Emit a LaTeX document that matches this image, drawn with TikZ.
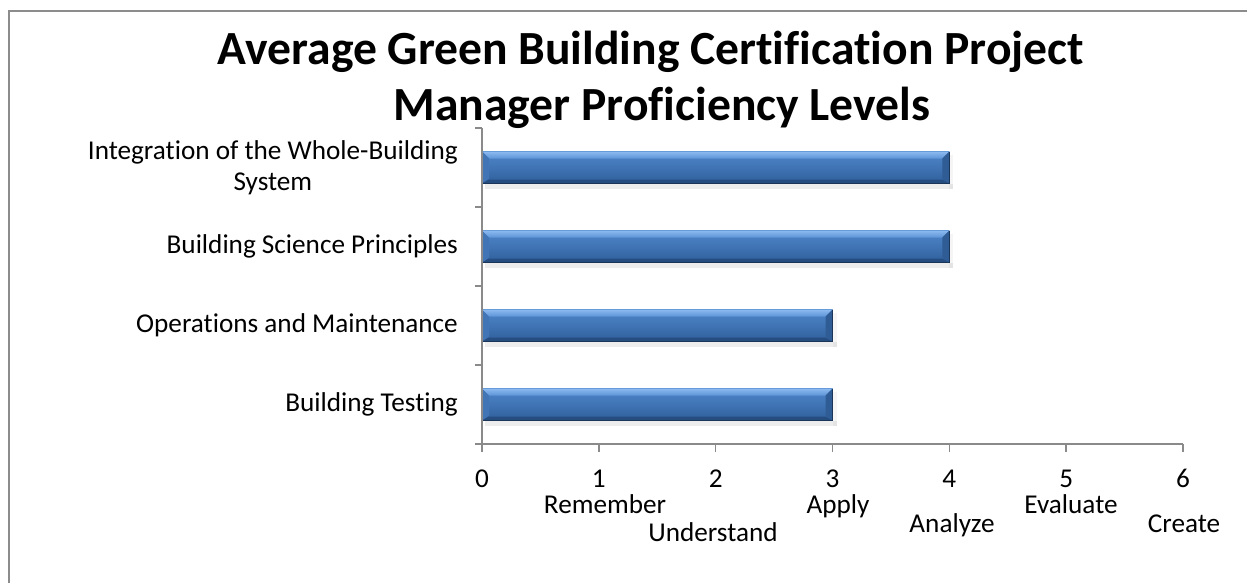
\documentclass[tikz,border=0pt]{standalone}
\usepackage{fontspec}
\setmainfont[Ligatures={NoCommon}]{Carlito}
\definecolor{frameC}{HTML}{8C8C8C}
\definecolor{axisC}{HTML}{8A8A8A}
\definecolor{faceT}{HTML}{4F88CC}
\definecolor{faceB}{HTML}{2F5F9B}
\definecolor{hiT}{HTML}{8DBAF0}
\definecolor{hiB}{HTML}{5C93D6}
\definecolor{sideL}{HTML}{4275B6}
\definecolor{sideR}{HTML}{2F5C94}
\definecolor{sideD}{HTML}{264D80}
\definecolor{edgeC}{HTML}{1B3558}
\tikzset{
  lbl/.style={inner sep=0pt, font=\fontsize{27.2}{31}\selectfont},
  ttl/.style={inner sep=0pt, font=\fontsize{47.6}{56}\selectfont\bfseries},
  axisline/.style={draw=axisC, line width=1.6pt},
}
\newcommand\drawbar[2]{%
  \pgfmathsetmacro\yt{#1-16}%
  \pgfmathsetmacro\yb{#1+16}%
  \pgfmathsetmacro\xe{482+116.83*#2}%
  \fill[black, opacity=0.07] (485,\yb) rectangle (\xe+4,\yb+5);
  \fill[black, opacity=0.04] (\xe,\yt+3) rectangle (\xe+4,\yb+5);
  \shade[top color=faceT, bottom color=faceB] (482,\yt) rectangle (\xe,\yb);
  \shade[top color=hiT, bottom color=hiB] (482,\yt) -- (\xe,\yt) -- (\xe-7,\yt+7) -- (489,\yt+7) -- cycle;
  \fill[sideL] (482,\yt) -- (489,\yt+7) -- (489,\yb-5) -- (482,\yb) -- cycle;
  \fill[sideR] (\xe,\yt) -- (\xe,\yb) -- (\xe-7,\yb-5) -- (\xe-7,\yt+7) -- cycle;
  \fill[sideD] (482,\yb) -- (\xe,\yb) -- (\xe-7,\yb-4) -- (489,\yb-4) -- cycle;
  \draw[edgeC, line width=1.2pt] (482,\yb) -- (\xe,\yb) -- (\xe,\yt);
}
\begin{document}
\begin{tikzpicture}[x=1pt, y=-1pt]
\useasboundingbox (0,0) rectangle (1247,582);
% frame (right and bottom edges lie outside the picture)
\draw[frameC, line width=1.8pt] (9,600) -- (9,11) -- (1260,11);

% title
\node[ttl] (t1) at (651,52) {Average Green Building Certification Project};
\node[ttl] (t2) at (662,108) {Manager Proficiency Levels};

% bars
\drawbar{167.5}{4}
\drawbar{246.5}{4}
\drawbar{325.5}{3}
\drawbar{404.5}{3}

% axes
\draw[axisline] (482,128) -- (482,444) -- (1183,444);
\foreach \yy in {128,207,286,365,444} \draw[axisline] (475,\yy) -- (482,\yy);
\foreach \k in {0,...,6} \draw[axisline] (482+116.83*\k,444) -- (482+116.83*\k,452);

% category labels
\node[lbl, anchor=east, align=center] (c1) at (458,167.5) {Integration of the Whole-Building\\System};
\node[lbl, anchor=east] (c2) at (458,246.5) {Building Science Principles};
\node[lbl, anchor=east] (c3) at (458,325.5) {Operations and Maintenance};
\node[lbl, anchor=east] (c4) at (458,404.5) {Building Testing};

% tick numbers
\foreach \k in {0,...,6} \node[lbl, anchor=base] (n\k) at (482+116.83*\k,487) {\k};

% level names
\node[lbl, anchor=base] (l1) at (605,513) {Remember};
\node[lbl, anchor=base] (l2) at (713,541) {Understand};
\node[lbl, anchor=base] (l3) at (838,513) {Apply};
\node[lbl, anchor=base] (l4) at (952,532) {Analyze};
\node[lbl, anchor=base] (l5) at (1071,513) {Evaluate};
\node[lbl, anchor=base] (l6) at (1184,532) {Create};
\end{tikzpicture}
\end{document}
